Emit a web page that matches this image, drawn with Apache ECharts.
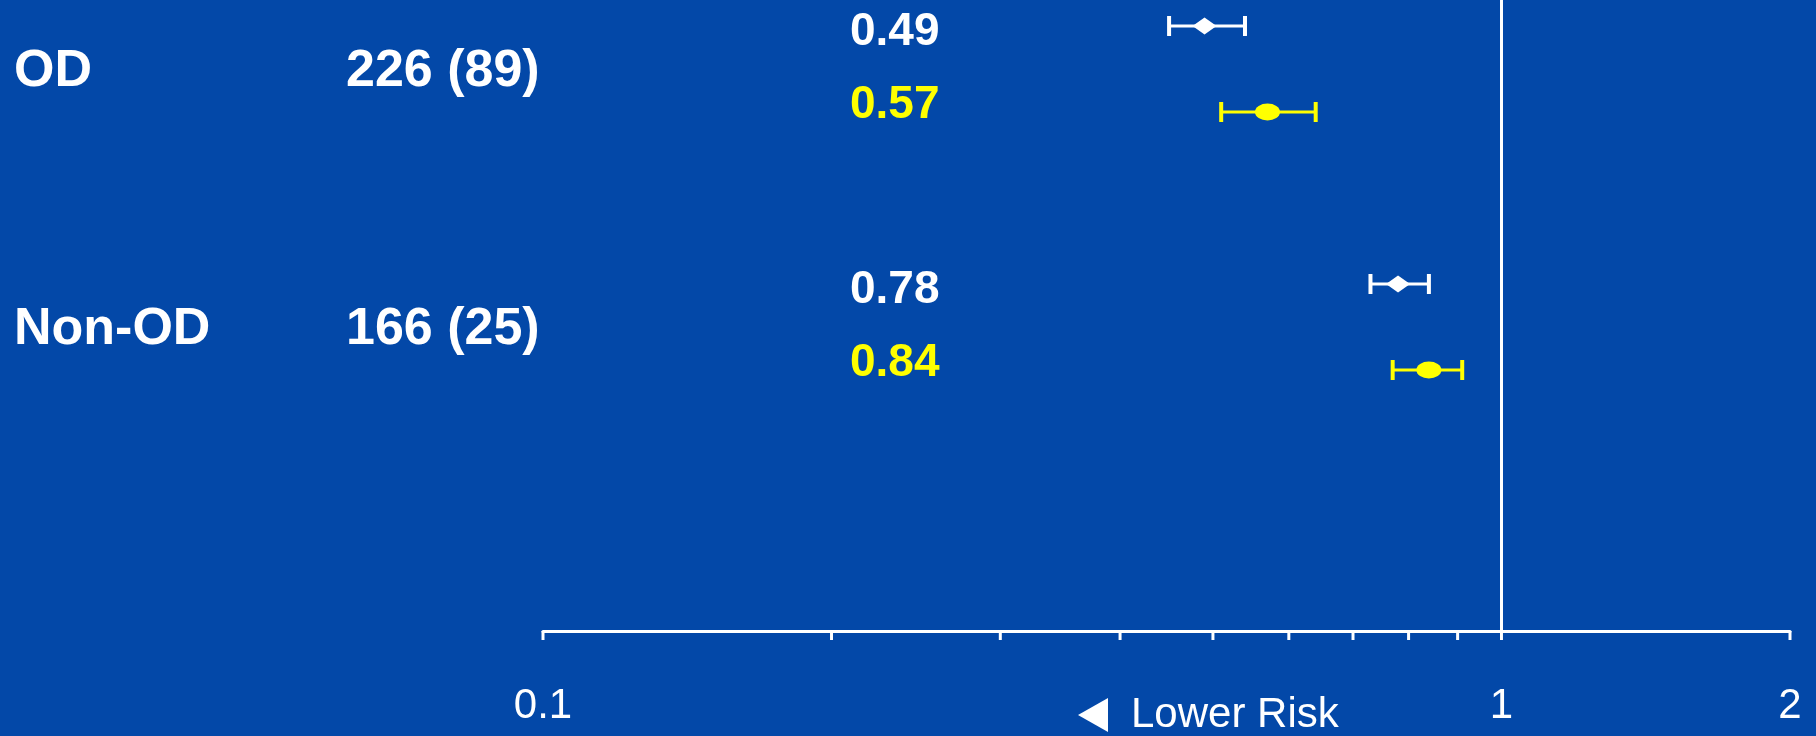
<!DOCTYPE html>
<html>
<head>
<meta charset="utf-8">
<script src="https://cdn.jsdelivr.net/npm/echarts@6/dist/echarts.min.js"></script>
<style>
  html, body { margin: 0; padding: 0; background: #0348a8; }
  #chart { width: 1816px; height: 736px; }
</style>
</head>
<body>
<div id="chart"></div>
<script>
// Subgroups and patient counts
const groups = ['OD', 'Non-OD'];
const patientsTotal = [226, 166];
const patientsEvents = [89, 25];

// Hazard ratios with 95% confidence limits, two estimates per subgroup
const hrWhite = [0.49, 0.78];
const ciWhiteLow = [0.45, 0.73];
const ciWhiteHigh = [0.54, 0.84];

const hrYellow = [0.57, 0.84];
const ciYellowLow = [0.51, 0.77];
const ciYellowHigh = [0.64, 0.91];

// Log axis ticks and labels
const axisTickValues = [0.1, 0.2, 0.3, 0.4, 0.5, 0.6, 0.7, 0.8, 0.9, 1, 2];
const axisLabelValues = [0.1, 1, 2];
const axisNote = 'Lower Risk';

const BG = '#0348a8';
const WHITE = '#ffffff';
const YELLOW = '#ffff00';
const FONT = '"Liberation Sans", Arial, Helvetica, sans-serif';

// vertical layout in row units: each subgroup takes two rows, with a gap between subgroups
const Y_MIN = -0.302;
const Y_MAX = 7.035;
const GROUP_STEP = 3;
function rowY(g, slot) { return g * GROUP_STEP + slot; }

const estimates = [
  { color: WHITE, symbol: 'diamond', size: [24, 17], hr: hrWhite, lo: ciWhiteLow, hi: ciWhiteHigh, slot: 0, labelDy: 6 },
  { color: YELLOW, symbol: 'circle', size: [25, 17], hr: hrYellow, lo: ciYellowLow, hi: ciYellowHigh, slot: 1, labelDy: -7 }
];

function textEl(x, y, text, color, font, align) {
  return {
    type: 'text',
    x: x, y: y,
    style: {
      text: text, fill: color, font: font,
      textAlign: align, align: align,
      textVerticalAlign: 'middle', verticalAlign: 'middle'
    }
  };
}

const series = [];

estimates.forEach(function (est, i) {
  // confidence interval whiskers
  series.push({
    type: 'custom',
    coordinateSystem: 'cartesian2d',
    clip: false,
    silent: true,
    z: 3,
    encode: { x: [0, 1], y: 2 },
    data: groups.map(function (_, g) { return [est.lo[g], est.hi[g], rowY(g, est.slot)]; }),
    renderItem: function (params, api) {
      const a = api.coord([api.value(0), api.value(2)]);
      const b = api.coord([api.value(1), api.value(2)]);
      const style = { stroke: est.color, lineWidth: 3 };
      const cap = { stroke: est.color, lineWidth: 4 };
      return {
        type: 'group',
        children: [
          { type: 'line', shape: { x1: a[0], y1: a[1], x2: b[0], y2: b[1] }, style: style },
          { type: 'line', shape: { x1: a[0], y1: a[1] - 10, x2: a[0], y2: a[1] + 10 }, style: cap },
          { type: 'line', shape: { x1: b[0], y1: b[1] - 10, x2: b[0], y2: b[1] + 10 }, style: cap }
        ]
      };
    },
    markLine: i === 0 ? {
      silent: true,
      symbol: 'none',
      label: { show: false },
      lineStyle: { color: WHITE, width: 3, type: 'solid' },
      data: [{ xAxis: 1 }]
    } : undefined
  });

  // point estimates
  series.push({
    type: 'scatter',
    silent: true,
    z: 4,
    symbol: est.symbol,
    symbolSize: est.size,
    itemStyle: { color: est.color, opacity: 1 },
    data: groups.map(function (_, g) { return [est.hr[g], rowY(g, est.slot)]; })
  });

  // hazard ratio text column
  series.push({
    type: 'custom',
    coordinateSystem: 'cartesian2d',
    clip: false,
    silent: true,
    data: groups.map(function (_, g) { return [est.hr[g], rowY(g, est.slot)]; }),
    renderItem: function (params, api) {
      const p = api.coord([api.value(0), api.value(1)]);
      return textEl(850, p[1] + est.labelDy, api.value(0).toFixed(2), est.color, 'bold 46px ' + FONT, 'left');
    }
  });
});

// subgroup name and patient count columns
series.push({
  type: 'custom',
  coordinateSystem: 'cartesian2d',
  clip: false,
  silent: true,
  data: groups.map(function (_, g) { return [1, rowY(g, 0.5), g]; }),
  renderItem: function (params, api) {
    const g = api.value(2);
    const p = api.coord([api.value(0), api.value(1)]);
    const y = p[1] + 3;
    return {
      type: 'group',
      children: [
        textEl(14, y, groups[g], WHITE, 'bold 52px ' + FONT, 'left'),
        textEl(346, y, patientsTotal[g] + ' (' + patientsEvents[g] + ')', WHITE, 'bold 52px ' + FONT, 'left')
      ]
    };
  }
});

// axis tick marks
series.push({
  type: 'custom',
  coordinateSystem: 'cartesian2d',
  clip: false,
  silent: true,
  data: axisTickValues.map(function (v) { return [v, Y_MAX]; }),
  renderItem: function (params, api) {
    const p = api.coord([api.value(0), api.value(1)]);
    return {
      type: 'line',
      shape: { x1: p[0], y1: p[1], x2: p[0], y2: p[1] + 9 },
      style: { stroke: WHITE, lineWidth: 3 }
    };
  }
});

// axis tick labels
series.push({
  type: 'custom',
  coordinateSystem: 'cartesian2d',
  clip: false,
  silent: true,
  data: axisLabelValues.map(function (v) { return [v, Y_MAX]; }),
  renderItem: function (params, api) {
    const p = api.coord([api.value(0), api.value(1)]);
    return textEl(p[0], p[1] + 75, String(api.value(0)), WHITE, '42px ' + FONT, 'center');
  }
});

const option = {
  backgroundColor: BG,
  animation: false,
  grid: { left: 543, right: 26, top: 0, bottom: 105, containLabel: false },
  xAxis: {
    type: 'log',
    logBase: 10,
    min: 0.1,
    max: 2,
    position: 'bottom',
    axisLine: { show: true, onZero: false, lineStyle: { color: WHITE, width: 3 } },
    axisTick: { show: false },
    axisLabel: { show: false },
    splitLine: { show: false },
    minorTick: { show: false }
  },
  yAxis: {
    type: 'value',
    inverse: true,
    min: Y_MIN,
    max: Y_MAX,
    show: false,
    splitLine: { show: false }
  },
  graphic: [
    {
      type: 'polygon',
      silent: true,
      shape: { points: [[1078, 715], [1108, 698], [1108, 732]] },
      style: { fill: WHITE }
    },
    {
      type: 'text',
      silent: true,
      x: 1131,
      y: 715,
      style: {
        text: axisNote, fill: WHITE, font: '42px ' + FONT,
        align: 'left', verticalAlign: 'middle'
      }
    }
  ],
  series: series
};

const chart = echarts.init(document.getElementById('chart'), null, { renderer: 'canvas' });
chart.setOption(option);
</script>
</body>
</html>
